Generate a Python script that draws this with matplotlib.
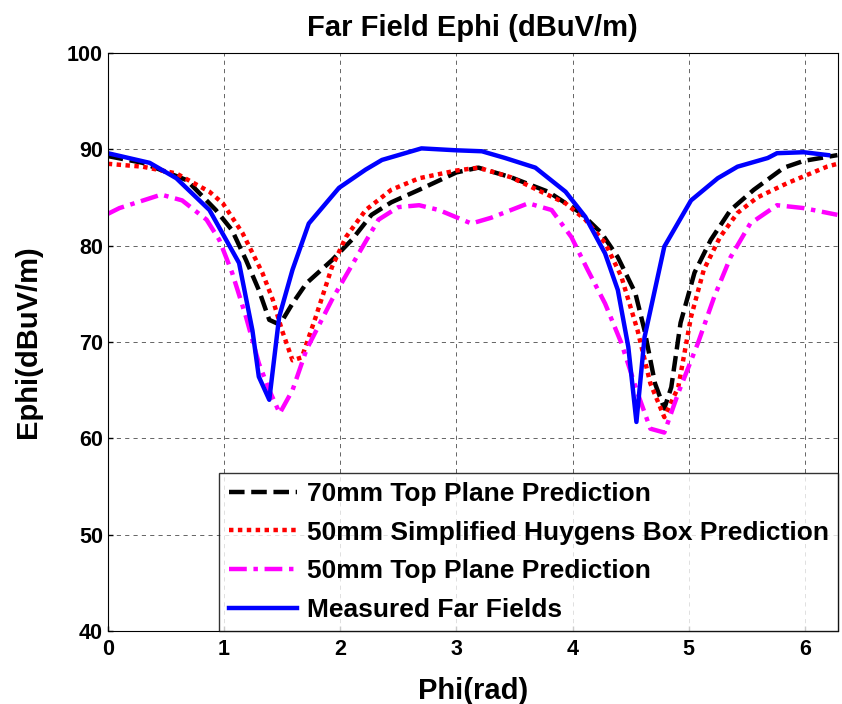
import numpy as np
import matplotlib.pyplot as plt

plt.rcParams['font.family'] = ['Liberation Sans', 'DejaVu Sans']
plt.rcParams['font.weight'] = 'bold'

# 70mm top plane prediction
phi_70 = [0, 0.3, 0.68, 0.93, 1.07, 1.19, 1.30, 1.39, 1.48, 1.59, 1.71, 1.93, 2.10,
          2.27, 2.44, 2.68, 3.0, 3.19, 3.47, 3.79, 4.07, 4.25, 4.39, 4.54, 4.62,
          4.71, 4.79, 4.85, 4.93, 5.05, 5.19, 5.36, 5.56, 5.82, 5.99, 6.28]
e_70 = [89.3, 88.6, 86.8, 83.7, 81.6, 78.5, 75.4, 72.3, 71.8, 74.0, 76.1, 78.5, 80.6,
        83.2, 84.5, 85.8, 87.6, 88.1, 87.1, 85.6, 83.4, 81.3, 78.8, 75.1, 71.2,
        65.7, 63.1, 65.3, 72.0, 77.2, 80.6, 83.7, 85.8, 88.1, 88.8, 89.4]

# 50mm simplified Huygens box prediction
phi_hb = [0, 0.3, 0.59, 0.875, 0.99, 1.16, 1.33, 1.42, 1.50, 1.59, 1.67, 1.79, 1.93,
          2.05, 2.22, 2.44, 2.68, 3.0, 3.19, 3.47, 3.94, 4.11, 4.28, 4.42, 4.56,
          4.67, 4.79, 4.91, 5.02, 5.13, 5.27, 5.42, 5.59, 5.85, 6.19, 6.28]
e_hb = [88.5, 88.2, 87.5, 85.6, 84.4, 81.3, 77.2, 74.4, 71.2, 68.1, 68.4, 72.6, 77.8,
        80.9, 83.7, 85.8, 87.0, 87.8, 88.1, 87.1, 84.4, 82.7, 80.3, 76.8, 71.2,
        65.7, 62.2, 65.3, 72.6, 77.5, 80.9, 83.4, 85.0, 86.5, 88.2, 88.5]

# 50mm top plane prediction
phi_tp = [0, 0.10, 0.46, 0.64, 0.85, 0.96, 1.07, 1.19, 1.30, 1.39, 1.48, 1.59, 1.71,
          1.93, 2.16, 2.33, 2.50, 2.68, 2.85, 3.13, 3.30, 3.62, 3.82, 3.99, 4.13,
          4.28, 4.42, 4.56, 4.67, 4.79, 4.91, 5.08, 5.22, 5.36, 5.53, 5.76, 5.99, 6.28]
e_tp = [83.3, 83.9, 85.3, 84.7, 82.7, 80.6, 77.2, 72.6, 67.8, 65.0, 62.6, 65.0, 69.2,
        74.4, 79.2, 82.7, 84.0, 84.2, 83.7, 82.3, 82.9, 84.4, 83.7, 80.9, 77.5,
        74.0, 69.9, 64.7, 61.0, 60.6, 64.7, 69.9, 74.7, 78.8, 82.3, 84.2, 83.9, 83.2]

# measured far fields
phi_m = [0, 0.36, 0.59, 0.875, 1.13, 1.245, 1.30, 1.39, 1.475, 1.59, 1.73, 1.99, 2.22,
         2.36, 2.70, 3.0, 3.22, 3.42, 3.68, 3.94, 4.11, 4.28, 4.39, 4.48, 4.55,
         4.62, 4.79, 5.02, 5.25, 5.42, 5.68, 5.76, 5.99, 6.2]
e_m = [89.6, 88.6, 87.0, 83.7, 78.2, 71.2, 66.4, 64.0, 72.6, 77.5, 82.3, 86.0, 87.9,
       88.9, 90.1, 89.9, 89.8, 89.1, 88.1, 85.6, 83.0, 79.2, 75.4, 69.5, 61.7,
       70.5, 79.9, 84.7, 87.0, 88.2, 89.1, 89.6, 89.7, 89.4]

labels = ['70mm Top Plane Prediction', '50mm Simplified Huygens Box Prediction',
          '50mm Top Plane Prediction', 'Measured Far Fields']

fig = plt.figure(figsize=(8.42, 7.04), dpi=100)
ax = fig.add_axes([0.128, 0.1037, 0.867, 0.821])

ax.plot(phi_70, e_70, color='black', linestyle=(0, (3.5, 1.5)), linewidth=3.2, label=labels[0])
ax.plot(phi_hb, e_hb, color='red', linestyle=(0, (1, 1)), linewidth=3.2, label=labels[1])
ax.plot(phi_tp, e_tp, color='magenta', linestyle=(0, (4, 1.5, 1, 1.5)), linewidth=3.2, label=labels[2])
ax.plot(phi_m, e_m, color='blue', linestyle='-', linewidth=3.2, label=labels[3])

ax.set_xlim(0, 2 * np.pi)
ax.set_ylim(40, 100)
ax.set_xticks(range(0, 7))
ax.set_yticks(range(40, 101, 10))
ax.tick_params(direction='in', labelsize=15.5, width=1)
ax.tick_params(axis='x', pad=6)
for lab in ax.get_xticklabels() + ax.get_yticklabels():
    lab.set_fontweight('bold')
ax.grid(True, color='black', linestyle=(0, (5, 5)), linewidth=0.6, alpha=0.7)

ax.set_title('Far Field Ephi (dBuV/m)', fontsize=21, fontweight='bold', pad=12)
ax.set_xlabel('Phi(rad)', fontsize=21, fontweight='bold', labelpad=12)
ax.set_ylabel('Ephi(dBuV/m)', fontsize=21, fontweight='bold', labelpad=18)

leg = ax.legend(loc='lower right', fontsize=19, frameon=True, fancybox=False,
                edgecolor='black', borderaxespad=0, handlelength=2.6,
                handletextpad=0.35, labelspacing=0.55, borderpad=0.35)
leg.get_frame().set_linewidth(1)
for t in leg.get_texts():
    t.set_fontweight('bold')

fig.savefig('out.png', dpi=100)
